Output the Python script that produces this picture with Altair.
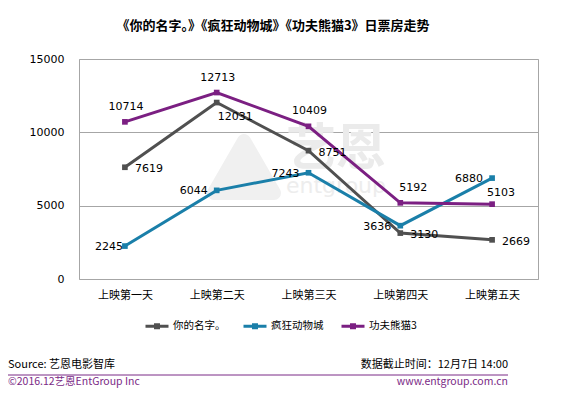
import altair as alt
import pandas as pd

days = ["上映第一天", "上映第二天", "上映第三天", "上映第四天", "上映第五天"]
series = ["你的名字。", "疯狂动物城", "功夫熊猫3"]
your_name = [7619, 12031, 8751, 3130, 2669]
zootopia = [2245, 6044, 7243, 3636, 6880]
kungfu = [10714, 12713, 10409, 5192, 5103]
colors = ["#505050", "#1a7fa9", "#7b1f82"]

title_text = "《你的名字。》《疯狂动物城》《功夫熊猫3》日票房走势"
source_text = "Source: 艺恩电影智库"
date_text = "数据截止时间：12月7日 14:00"
copy_text = "©2016.12艺恩EntGroup Inc"
url_text = "www.entgroup.com.cn"
wm_text = "艺恩"
wm_text2 = "entgroup"
purple = "#7b2a86"

rows = []
for name, vals in zip(series, [your_name, zootopia, kungfu]):
    for d, v in zip(days, vals):
        rows.append({"day": d, "series": name, "value": v})
df = pd.DataFrame(rows)

CJK = "Noto Sans CJK SC"
NUM = "DejaVu Sans"

x = alt.X("day:N", sort=days, scale=alt.Scale(type="point", padding=0.5),
          axis=alt.Axis(title=None, labelAngle=0, ticks=False, domain=False, grid=False,
                        labelFont=CJK, labelFontSize=11, labelColor="#000000", labelPadding=10))
y = alt.Y("value:Q", scale=alt.Scale(domain=[0, 15000]),
          axis=alt.Axis(title=None, values=[0, 5000, 10000, 15000], format="d", ticks=False, domain=False,
                        grid=True, gridColor="#a6a6a6", gridWidth=1,
                        labelFont=NUM, labelFontSize=11, labelColor="#000000", labelPadding=15))
cscale = alt.Scale(domain=series, range=colors)
color = alt.Color("series:N", sort=series, scale=cscale,
                  legend=alt.Legend(title=None, orient="none", direction="horizontal",
                                    legendX=65, legendY=254,
                                    symbolType="M-1,0L1,0M-0.13,-0.13L0.13,-0.13L0.13,0.13L-0.13,0.13Z",
                                    symbolSize=529, symbolStrokeWidth=3,
                                    labelFont=CJK, labelFontSize=10.5, labelColor="#000000",
                                    labelOffset=3, columnPadding=11))

one = pd.DataFrame({"a": [0]})

# faint watermark
wm_logo = alt.Chart(one).mark_point(shape="triangle-up", filled=True, color="#f0f0f0",
                                    stroke="#f0f0f0", strokeWidth=14, strokeJoin="round",
                                    opacity=1, size=3600).encode(
    x=alt.value(165), y=alt.value(108))
wm1 = alt.Chart(one).mark_text(align="center", baseline="middle", font=CJK, fontSize=50,
                               fontWeight="bold", color="#ebebeb").encode(
    x=alt.value(257), y=alt.value(91), text=alt.value(wm_text))
wm2 = alt.Chart(one).mark_text(align="center", baseline="middle", font="DejaVu Sans", fontSize=22,
                               color="#ededed").encode(
    x=alt.value(257), y=alt.value(127), text=alt.value(wm_text2))

base = alt.Chart(df)
lines = base.mark_line(strokeWidth=3).encode(x=x, y=y, color=color)
points = base.mark_square(size=32, opacity=1).encode(
    x=x, y=y, color=alt.Color("series:N", sort=series, scale=cscale, legend=None))


def labels(name, which, align, dx, dy):
    cond = alt.datum.series == name
    sel = alt.FieldOneOfPredicate(field="day", oneOf=[days[i] for i in which])
    return base.transform_filter(cond).transform_filter(sel).mark_text(
        align=align, baseline="middle", dx=dx, dy=dy, font=NUM, fontSize=11, color="#000000"
    ).encode(x=x, y=y, text="value:Q")


label_layers = [
    labels(series[0], [0, 2, 3, 4], "left", 10, 2),
    labels(series[0], [1], "left", 1, 14),
    labels(series[1], [0], "right", -2, 1),
    labels(series[1], [1, 2, 3, 4], "right", -9, 1),
    labels(series[2], [0, 1, 2], "center", 1, -15),
    labels(series[2], [3], "center", 13, -15),
    labels(series[2], [4], "center", 9, -11),
]

title = alt.Chart(one).mark_text(align="center", baseline="middle", font=CJK, fontSize=13,
                                 fontWeight="bold", color="#000000").encode(
    x=alt.value(194), y=alt.value(-33), text=alt.value(title_text))
src = alt.Chart(one).mark_text(align="left", baseline="middle", font=CJK, fontSize=11,
                               color="#000000").encode(
    x=alt.value(-71), y=alt.value(306), text=alt.value(source_text))
dat = alt.Chart(one).mark_text(align="right", baseline="middle", font=CJK, fontSize=11,
                               color="#000000").encode(
    x=alt.value(429), y=alt.value(306), text=alt.value(date_text))
rule = alt.Chart(one).mark_rule(color=purple, strokeWidth=1).encode(
    x=alt.value(-71), x2=alt.value(429), y=alt.value(316))
cpy = alt.Chart(one).mark_text(align="left", baseline="middle", font=CJK, fontSize=10.5,
                               color=purple).encode(
    x=alt.value(-71), y=alt.value(323), text=alt.value(copy_text))
url = alt.Chart(one).mark_text(align="right", baseline="middle", font=CJK, fontSize=10.5,
                               color=purple).encode(
    x=alt.value(429), y=alt.value(323), text=alt.value(url_text))

chart = alt.layer(wm_logo, wm1, wm2, lines, points, *label_layers,
                  title, src, dat, rule, cpy, url).properties(
    width=459, height=220,
    autosize=alt.AutoSizeParams(type="none"),
    padding={"left": 71, "top": 51, "right": 30, "bottom": 110},
    background="#ffffff",
).configure_view(stroke="#a6a6a6", strokeWidth=1)

chart.save("out.html", embed_options={"renderer": "svg", "actions": False})
